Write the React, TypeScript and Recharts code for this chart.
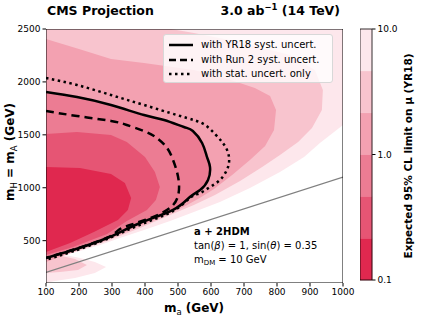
import { ScatterChart, Scatter, XAxis, YAxis } from "recharts";

const FONT = "'DejaVu Sans', sans-serif";

// contour levels of the expected limit on mu, and the fill of each band
const muLevels = [0.1, 0.215, 0.464, 1.0, 2.15, 4.64, 10.0];
const bandColors = ["#e0284f", "#e65574", "#ec7c93", "#f3a1b1", "#f8c4ce", "#fde7ec"];

const xTicks = [100, 200, 300, 400, 500, 600, 700, 800, 900, 1000];
const yTicks = [500, 1000, 1500, 2000, 2500];
const cbTicks = [0.1, 1, 10];

// filled regions mu < level, [m_a, m_H]
const regionMu10 = [
  [100, 2500], [1000, 2500], [1000, 1593], [930, 1423], [882, 1290], [809, 1149],
  [718, 998], [627, 865], [548, 771], [476, 686], [397, 601], [324, 525],
  [264, 459], [203, 402], [158, 364], [203, 336], [248, 298], [282, 251],
  [248, 194], [188, 147], [127, 119], [100, 100],
];
const regionMu4 = [
  [100, 2500], [479, 2500], [548, 2462], [688, 2377], [839, 2254], [915, 2113],
  [939, 1924], [936, 1735], [906, 1565], [864, 1432], [809, 1309], [755, 1196],
  [688, 1064], [612, 931], [548, 837], [476, 742], [385, 620], [285, 497],
  [203, 412], [148, 355], [188, 327], [224, 270], [197, 223], [142, 204], [100, 194],
];
const regionMu2 = [
  [100, 2405], [200, 2311], [297, 2217], [397, 2179], [548, 2113], [642, 2037],
  [733, 1943], [779, 1867], [797, 1735], [791, 1546], [764, 1394], [718, 1262],
  [664, 1120], [609, 988], [567, 905], [521, 825], [445, 715], [385, 640],
  [285, 506], [182, 393], [100, 298],
];
const regionMu0p46 = [
  [100, 1508], [194, 1527], [297, 1498], [345, 1432], [400, 1290], [430, 1149],
  [445, 1007], [433, 884], [406, 790], [345, 686], [285, 563], [182, 440], [100, 364],
];
const regionMu0p2 = [
  [100, 1196], [203, 1187], [297, 1130], [339, 1045], [358, 903], [348, 790],
  [318, 695], [245, 582], [173, 478], [100, 393],
];

// contour lines mu = 1
const contourYR18 = [
  [100, 1905], [194, 1857], [297, 1782], [397, 1687], [458, 1640], [518, 1574],
  [545, 1536], [573, 1423], [588, 1290], [597, 1196], [591, 1073], [567, 979],
  [536, 912], [485, 790], [385, 667], [285, 525], [182, 412], [100, 336],
];
const contourRun2 = [
  [100, 1725], [194, 1678], [297, 1631], [345, 1593], [397, 1536], [436, 1470],
  [467, 1375], [485, 1262], [497, 1149], [503, 1035], [500, 922], [482, 827],
  [445, 752], [400, 695], [355, 648], [320, 600], [285, 528], [182, 414], [100, 338],
];
const contourStat = [
  [100, 2037], [194, 1971], [297, 1876], [397, 1782], [497, 1687], [548, 1640],
  [582, 1593], [612, 1508], [636, 1423], [651, 1338], [655, 1253], [648, 1168],
  [627, 1073], [597, 1007], [567, 950], [536, 903], [485, 780], [385, 650],
  [285, 516], [182, 400], [100, 320],
];
const kinematicLine = [[100, 200], [1000, 1100]];
const frame = [[100, 100], [1000, 100], [1000, 2500], [100, 2500]];

const pts = (arr: number[][]) => arr.map(([x, y]) => ({ x, y }));
const noDot = () => <g />;

const regions = [regionMu10, regionMu4, regionMu2, contourYR18, regionMu0p46, regionMu0p2];

const txt = { fontFamily: FONT, lineHeight: 1, whiteSpace: "nowrap" as const, position: "absolute" as const };

function LegendBox() {
  const rows = [
    { label: "with YR18 syst. uncert.", dash: undefined },
    { label: "with Run 2 syst. uncert.", dash: "7 4" },
    { label: "with stat. uncert. only", dash: "2.5 3.5" },
  ];
  return (
    <div style={{ position: "absolute", left: 163, top: 34, width: 170, height: 49, background: "rgba(255,255,255,0.8)", border: "1px solid #d8d8d8", borderRadius: 3, boxSizing: "border-box" }}>
      {rows.map((r, i) => (
        <div key={r.label} style={{ position: "absolute", left: 0, top: 3 + i * 14.5, height: 14, width: 170 }}>
          <svg width={26} height={14} style={{ position: "absolute", left: 4, top: 0 }}>
            <line x1={1} y1={7} x2={25} y2={7} stroke="#000" strokeWidth={2.5} strokeDasharray={r.dash} />
          </svg>
          <span style={{ ...txt, left: 37, top: 2, fontSize: 10 }}>{r.label}</span>
        </div>
      ))}
    </div>
  );
}

export default function App() {
  return (
    <div style={{ position: "absolute", left: 0, top: 0, width: 425, height: 319, background: "#fff", overflow: "hidden" }}>
      <ScatterChart width={425} height={319} margin={{ top: 29, right: 82, bottom: 6, left: 6 }} style={{ position: "absolute", left: 0, top: 0 }}>
        <XAxis type="number" dataKey="x" domain={[100, 1000]} ticks={xTicks} allowDataOverflow height={30}
          axisLine={false} tickLine={{ stroke: "#000" }} tickSize={3.5}
          tick={{ fill: "#000", fontSize: 9, fontFamily: FONT }} />
        <YAxis type="number" dataKey="y" domain={[100, 2500]} ticks={yTicks} allowDataOverflow width={40}
          axisLine={false} tickLine={{ stroke: "#000" }} tickSize={3.5}
          tick={{ fill: "#000", fontSize: 9, fontFamily: FONT }} />
        {regions.map((r, i) => (
          <Scatter key={i} data={pts(r)} fill={bandColors[5 - i]} shape={noDot}
            line={{ fill: bandColors[5 - i], stroke: "none" }} lineJointType="linearClosed" isAnimationActive={false} />
        ))}
        <Scatter data={pts(kinematicLine)} fill="#808080" shape={noDot} line={{ stroke: "#808080", strokeWidth: 1.2 }} isAnimationActive={false} />
        <Scatter data={pts(contourStat)} fill="#000" shape={noDot} line={{ stroke: "#000", strokeWidth: 2.5, strokeDasharray: "2.5 3.5" }} lineJointType="natural" isAnimationActive={false} />
        <Scatter data={pts(contourRun2)} fill="#000" shape={noDot} line={{ stroke: "#000", strokeWidth: 2.5, strokeDasharray: "8 5" }} lineJointType="natural" isAnimationActive={false} />
        <Scatter data={pts(contourYR18)} fill="#000" shape={noDot} line={{ stroke: "#000", strokeWidth: 2.5 }} lineJointType="natural" isAnimationActive={false} />
        <Scatter data={pts(frame)} fill="#000" shape={noDot} line={{ stroke: "#000", strokeWidth: 1, fill: "none" }} lineJointType="linearClosed" isAnimationActive={false} />
      </ScatterChart>

      <ScatterChart width={65} height={319} margin={{ top: 29, right: 23, bottom: 39, left: 0 }} style={{ position: "absolute", left: 360, top: 0 }}>
        <XAxis type="number" dataKey="x" domain={[0, 1]} hide height={0} />
        <YAxis type="number" dataKey="y" orientation="right" scale="log" domain={[0.1, 10]} ticks={cbTicks} width={30}
          axisLine={false} tickLine={{ stroke: "#000" }} tickSize={3.5} tickFormatter={(v: number) => v.toFixed(1)}
          tick={{ fill: "#000", fontSize: 9, fontFamily: FONT }} />
        {bandColors.map((c, i) => (
          <Scatter key={c} data={pts([[0, muLevels[i]], [1, muLevels[i]], [1, muLevels[i + 1]], [0, muLevels[i + 1]]])}
            fill={c} shape={noDot} line={{ fill: c, stroke: c, strokeWidth: 0.5 }} lineJointType="linearClosed" isAnimationActive={false} />
        ))}
        <Scatter data={pts([[0, 0.1], [1, 0.1], [1, 10], [0, 10]])} fill="#000" shape={noDot}
          line={{ stroke: "#000", strokeWidth: 0.8, fill: "none" }} lineJointType="linearClosed" isAnimationActive={false} />
      </ScatterChart>

      <LegendBox />

      <div style={{ ...txt, left: 47, top: 5, fontSize: 12.5, fontWeight: "bold" }}>CMS Projection</div>
      <div style={{ ...txt, right: 85, top: 5, fontSize: 12.5, fontWeight: "bold" }}>
        3.0 ab<span style={{ fontSize: 8.5, position: "relative", top: -5 }}>−1</span> (14 TeV)
      </div>

      <div style={{ ...txt, left: 194, top: 302, fontSize: 12, fontWeight: "bold", transform: "translateX(-50%)" }}>
        m<span style={{ fontSize: 8.5, fontWeight: "normal", position: "relative", top: 3 }}>a</span> (GeV)
      </div>
      <div style={{ ...txt, left: 10, top: 152, fontSize: 12, fontWeight: "bold", transform: "translate(-50%, -50%) rotate(-90deg)" }}>
        m<span style={{ fontSize: 8.5, fontWeight: "normal", position: "relative", top: 3 }}>H</span> = m<span style={{ fontSize: 8.5, fontWeight: "normal", position: "relative", top: 3 }}>A</span> (GeV)
      </div>
      <div style={{ ...txt, left: 408, top: 156, fontSize: 10.5, fontWeight: "bold", transform: "translate(-50%, -50%) rotate(-90deg)" }}>
        Expected 95% CL limit on μ (YR18)
      </div>

      <div style={{ ...txt, left: 194, top: 227, fontSize: 10, fontWeight: "bold" }}>a + 2HDM</div>
      <div style={{ ...txt, left: 194, top: 241, fontSize: 10 }}>
        tan(<i>β</i>) = 1, sin(<i>θ</i>) = 0.35
      </div>
      <div style={{ ...txt, left: 194, top: 255, fontSize: 10 }}>
        m<span style={{ fontSize: 7, position: "relative", top: 2 }}>DM</span> = 10 GeV
      </div>
    </div>
  );
}
